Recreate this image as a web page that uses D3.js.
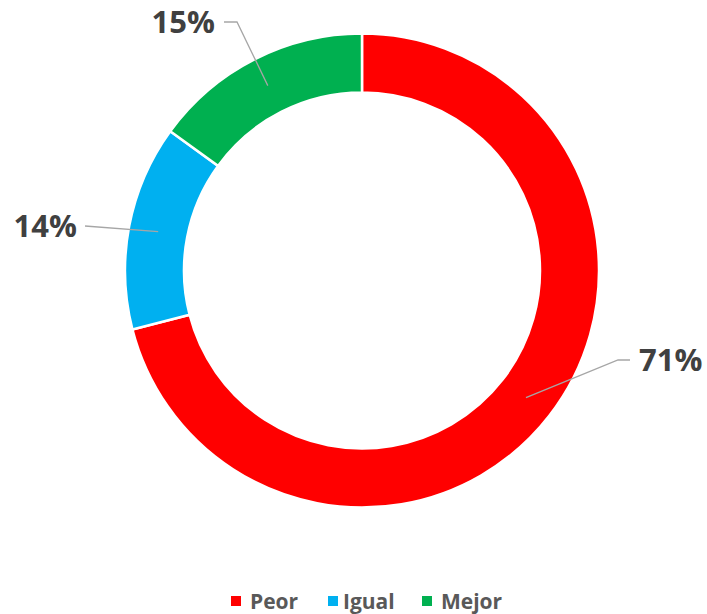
<!DOCTYPE html>
<html>
<head>
<meta charset="utf-8">
<script src="https://cdn.jsdelivr.net/npm/d3@7/dist/d3.min.js"></script>
<style>
  html, body { margin: 0; padding: 0; background: #fff; }
  svg { display: block; font-family: "Open Sans", "DejaVu Sans", sans-serif; }
</style>
</head>
<body>
<div id="chart"></div>
<script>
// data
const categories = ["Peor", "Igual", "Mejor"];
const shares = [71, 14, 15];
const colors = ["#FF0000", "#00B0F0", "#00B050"];

// label layout, relative to the chart centre: leader line points after the centroid, text x, anchor
const labelLayout = {
    Peor: {pts: [[256, 89.5], [268, 89.5]], tx: 277, anchor: "start"},
    Igual: {pts: [[-277, -44.5]], tx: -285, anchor: "end"},
    Mejor: {pts: [[-125, -248.5], [-138, -248.5]], tx: -147, anchor: "end"}
};

const width = 707, height = 614;
const cx = 362, cy = 270.5;
const outerR = 237, innerR = 178;

const svg = d3.select("#chart")
    .append("svg")
    .attr("width", width)
    .attr("height", height);

const pie = d3.pie().sort(null).value(d => d.value);
const arcs = pie(categories.map((c, i) => ({name: c, value: shares[i], color: colors[i]})));

const arc = d3.arc().innerRadius(innerR).outerRadius(outerR);

const g = svg.append("g").attr("transform", `translate(${cx},${cy})`);

g.selectAll("path.slice")
    .data(arcs)
    .enter()
    .append("path")
    .attr("class", "slice")
    .attr("d", arc)
    .attr("fill", d => d.data.color)
    .attr("stroke", "#fff")
    .attr("stroke-width", 2.5)
    .attr("stroke-linejoin", "miter");

// leader lines + labels
const total = d3.sum(shares);
arcs.forEach(d => {
    const lay = labelLayout[d.data.name];
    const pts = [arc.centroid(d)].concat(lay.pts);
    const end = pts[pts.length - 1];
    g.append("polyline")
        .attr("points", pts.map(p => p.join(",")).join(" "))
        .attr("fill", "none")
        .attr("stroke", "#A6A6A6")
        .attr("stroke-width", 1.3);

    g.append("text")
        .attr("x", lay.tx)
        .attr("y", end[1])
        .attr("dy", "0.36em")
        .attr("text-anchor", lay.anchor)
        .attr("font-size", "31px")
        .attr("font-weight", "bold")
        .attr("fill", "#404040")
        .text(Math.round(d.data.value / total * 100) + "%");
});

// legend
const legend = svg.append("g").attr("transform", "translate(0,601)");
const legendX = [231, 328, 422];
categories.forEach((c, i) => {
    const item = legend.append("g").attr("transform", `translate(${legendX[i]},0)`);
    item.append("rect")
        .attr("x", 0).attr("y", -5)
        .attr("width", 10).attr("height", 10)
        .attr("fill", colors[i]);
    item.append("text")
        .attr("x", i === 1 ? 15 : 19)
        .attr("y", 0)
        .attr("dy", "0.36em")
        .attr("font-size", "21px")
        .attr("font-weight", "bold")
        .attr("fill", "#595959")
        .text(c);
});
</script>
</body>
</html>
